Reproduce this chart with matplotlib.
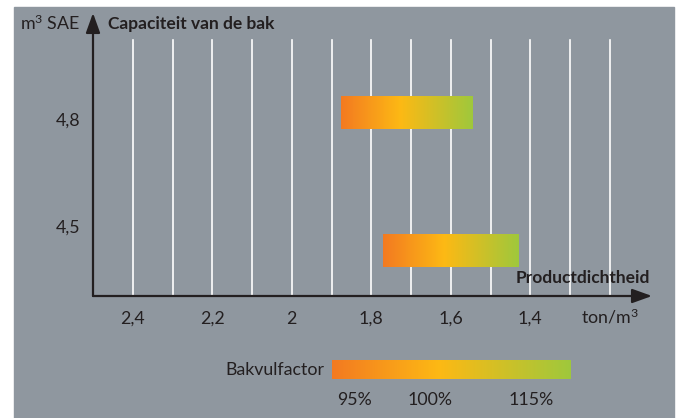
import numpy as np
import matplotlib
matplotlib.use("Agg")
import matplotlib.pyplot as plt
from matplotlib.colors import LinearSegmentedColormap
from matplotlib.patches import Rectangle
from matplotlib import transforms

# bakcapaciteit (m3 SAE) en productdichtheid bij 95% en 115% bakvulfactor
capacity = [4.8, 4.5]
capacity_labels = ["4,8", "4,5"]
density_at_95 = [1.875, 1.77]
density_at_115 = [1.545, 1.43]

density_ticks = [2.4, 2.2, 2.0, 1.8, 1.6, 1.4]
density_labels = ["2,4", "2,2", "2", "1,8", "1,6", "1,4"]
grid_density = [2.4, 2.3, 2.2, 2.1, 2.0, 1.9, 1.8, 1.7, 1.6, 1.5, 1.4, 1.3, 1.2]
fill_labels = ["95%", "100%", "115%"]

GRAY = "#8f979f"
DARK = "#231f20"
plt.rcParams["font.family"] = ["Lato", "DejaVu Sans"]
plt.rcParams["mathtext.fontset"] = "custom"
plt.rcParams["mathtext.rm"] = "Lato"
plt.rcParams["mathtext.it"] = "Lato"

cmap = LinearSegmentedColormap.from_list(
    "bakvul", [(0.0, "#f37a21"), (0.45, "#fdb914"), (1.0, "#9fc83c")])
grad = np.linspace(0, 1, 256).reshape(1, -1)

W, H = 680, 418
fig = plt.figure(figsize=(W / 100, H / 100), dpi=100)
fig.patches.append(Rectangle((14 / W, 0), 660 / W, 411 / H,
                             transform=fig.transFigure, color=GRAY, zorder=-10))

ax = fig.add_axes([93 / W, 122 / H, 559 / W, 283 / H])
ax.patch.set_visible(False)
xlim = (2.5, 2.5 - 559 / 397.5)
ylim = (4.4, 4.4 + 283 / 458.3)

for d in grid_density:
    ax.axvline(d, ymin=0, ymax=0.905, color="white", lw=1.2, zorder=1)

bar_h = 0.072
for c, s, e in zip(capacity, density_at_95, density_at_115):
    ax.imshow(grad, cmap=cmap, aspect="auto", zorder=3,
              extent=[s, e, c - bar_h / 2, c + bar_h / 2])

ax.set_xlim(*xlim)
ax.set_ylim(*ylim)
for sp in ax.spines.values():
    sp.set_visible(False)
ax.set_xticks([])
ax.set_yticks([])

arrow = dict(arrowstyle="-|>,head_length=1.0,head_width=0.36", color=DARK,
             lw=1.6, shrinkA=0, shrinkB=0, mutation_scale=12)
ax.annotate("", xy=(0, 1), xytext=(0, 0), xycoords="axes fraction", arrowprops=arrow)
ax.annotate("", xy=(1, 0), xytext=(0, 0), xycoords="axes fraction", arrowprops=arrow)

fs = 12.8
fsb = 12.5
xt = ax.get_xaxis_transform()
for d, lab in zip(density_ticks, density_labels):
    ax.text(d, -0.081, lab, transform=xt, ha="center", va="center",
            fontsize=fs, color=DARK)
ax.text(1.2, -0.072, r"ton/m$^{3}$", transform=xt, ha="center", va="center",
        fontsize=fs, color=DARK)

# y labels, nudged (pixels) like in the original
nudge = [-7.5, 23]
yt = ax.get_yaxis_transform()
for c, lab, n in zip(capacity, capacity_labels, nudge):
    tr = transforms.offset_copy(yt, fig=fig, x=-9, y=n * 0.72, units="points")
    ax.text(0, c, lab, transform=tr, ha="right", va="center",
            fontsize=fs, color=DARK)

ax.text(-0.0233, 0.963, r"m$^{3}$ SAE", transform=ax.transAxes, ha="right",
        va="center", fontsize=fs, color=DARK)
ax.text(0.0268, 0.961, "Capaciteit van de bak", transform=ax.transAxes,
        ha="left", va="center", fontsize=fsb, fontweight="bold", color=DARK)
ax.text(0.9964, 0.0636, "Productdichtheid", transform=ax.transAxes,
        ha="right", va="center", fontsize=fsb, fontweight="bold", color=DARK)

# legenda bakvulfactor
lax = fig.add_axes([332 / W, (H - 379) / H, 239 / W, 19 / H])
lax.imshow(grad, cmap=cmap, aspect="auto", extent=[0, 1, 0, 1])
lax.axis("off")
fig.text(324 / W, (H - 370) / H, "Bakvulfactor", ha="right", va="center",
         fontsize=fs, color=DARK)
for px, lab in zip([354, 430, 531], fill_labels):
    fig.text(px / W, (H - 400) / H, lab, ha="center", va="center",
             fontsize=fs, color=DARK)

fig.savefig("out.png", dpi=100, facecolor="white")
